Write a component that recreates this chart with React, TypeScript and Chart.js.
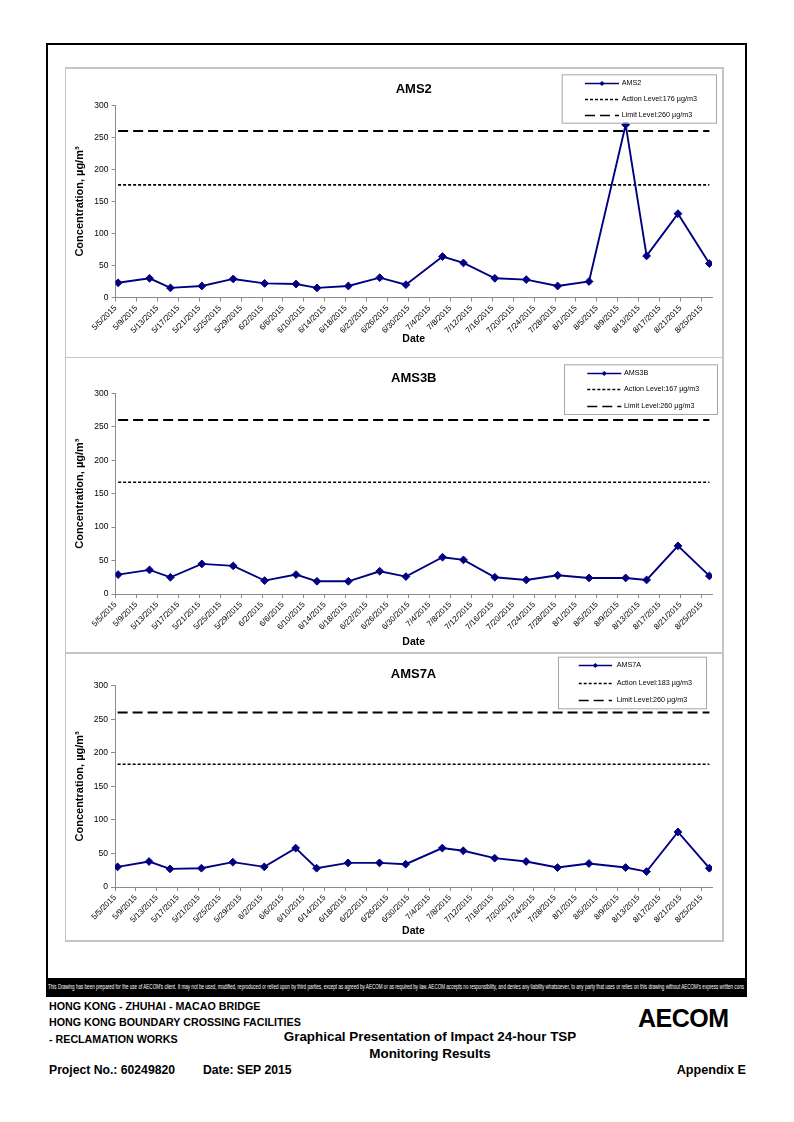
import React, { useEffect, useLayoutEffect, useRef } from 'react';
import { Chart, registerables } from 'chart.js';

Chart.register(...registerables);

// ---------------- DATA ----------------
const sampleDates = [
  '5/5/2015', '5/11/2015', '5/15/2015', '5/21/2015', '5/27/2015', '6/2/2015', '6/8/2015',
  '6/12/2015', '6/18/2015', '6/24/2015', '6/29/2015', '7/6/2015', '7/10/2015', '7/16/2015',
  '7/22/2015', '7/28/2015', '8/3/2015', '8/10/2015', '8/14/2015', '8/20/2015', '8/26/2015',
];

const tickLabels = [
  '5/5/2015', '5/9/2015', '5/13/2015', '5/17/2015', '5/21/2015', '5/25/2015', '5/29/2015',
  '6/2/2015', '6/6/2015', '6/10/2015', '6/14/2015', '6/18/2015', '6/22/2015', '6/26/2015',
  '6/30/2015', '7/4/2015', '7/8/2015', '7/12/2015', '7/16/2015', '7/20/2015', '7/24/2015',
  '7/28/2015', '8/1/2015', '8/5/2015', '8/9/2015', '8/13/2015', '8/17/2015', '8/21/2015',
  '8/25/2015',
];
const axisStartDate = '5/5/2015';
const axisEndDate = '8/27/2015';

const ams2Values = [23, 30, 15, 18, 29, 22, 21, 15, 18, 31, 20, 64, 54, 30, 28, 18, 25, 270, 65, 131, 53];
const ams3bValues = [29, 36, 25, 45, 42, 20, 29, 19, 19, 34, 26, 55, 51, 25, 21, 28, 24, 24, 21, 72, 27];
const ams7aValues = [30, 38, 27, 28, 37, 30, 58, 28, 36, 36, 34, 58, 54, 43, 38, 29, 35, 29, 23, 82, 28];

const stationNames = ['AMS2', 'AMS3B', 'AMS7A'];
const actionLevels = [176, 167, 183];
const limitLevel = 260;
const yMin = 0;
const yMax = 300;
const yStep = 50;

// ---------------- HELPERS ----------------
const FONT = "'Liberation Sans', Arial, Helvetica, sans-serif";

function dayOf(label: string): number {
  const [m, d, y] = label.split('/').map(Number);
  const [m0, d0, y0] = axisStartDate.split('/').map(Number);
  return Math.round((Date.UTC(y, m - 1, d) - Date.UTC(y0, m0 - 1, d0)) / 86400000);
}

type LegendLayout = {
  left: number; top: number; width: number; height: number;
  firstRow: number; rowGap: number; lineX0: number; lineX1: number; textX: number;
};

type ChartLayout = {
  top: number; height: number;
  yAxisWidth: number; padRight: number;
  titlePadTop: number; titlePadBottom: number;
  xAxisHeight: number; datePad: number; yTitlePad: number;
  legend: LegendLayout;
};

const boxLegend = {
  id: 'boxLegend',
  afterDraw(chart: any, _args: any, opts: any) {
    const ctx = chart.ctx as CanvasRenderingContext2D;
    const { left, top, width, height, firstRow, rowGap, lineX0, lineX1, textX } = opts;
    if (width === undefined) return;
    ctx.save();
    ctx.fillStyle = '#ffffff';
    ctx.fillRect(left, top, width, height);
    ctx.strokeStyle = '#a6a6a6';
    ctx.lineWidth = 1;
    ctx.strokeRect(left + 0.5, top + 0.5, width, height);
    chart.data.datasets.forEach((ds: any, i: number) => {
      const y = Math.round(top + firstRow + i * rowGap) + 0.5;
      ctx.setLineDash(ds.borderDash || []);
      ctx.strokeStyle = ds.borderColor;
      ctx.lineWidth = Math.min(ds.borderWidth, 1.6);
      ctx.beginPath();
      ctx.moveTo(left + lineX0, y);
      ctx.lineTo(left + lineX1, y);
      ctx.stroke();
      ctx.setLineDash([]);
      if (ds.pointRadius > 0) {
        const cx = left + (lineX0 + lineX1) / 2;
        const r = 2.6;
        ctx.fillStyle = ds.pointBackgroundColor;
        ctx.beginPath();
        ctx.moveTo(cx, y - r);
        ctx.lineTo(cx + r, y);
        ctx.lineTo(cx, y + r);
        ctx.lineTo(cx - r, y);
        ctx.closePath();
        ctx.fill();
      }
      ctx.fillStyle = '#000000';
      ctx.font = `7.2px ${FONT}`;
      ctx.textBaseline = 'middle';
      ctx.textAlign = 'left';
      ctx.fillText(ds.label, left + textX, y);
    });
    ctx.restore();
  },
};

const layouts: ChartLayout[] = [
  {
    top: 68, height: 289, yAxisWidth: 50.5, padRight: 11,
    titlePadTop: 13.5, titlePadBottom: 8.4, xAxisHeight: 59.5, datePad: 11.4, yTitlePad: 8.4,
    legend: { left: 496.7, top: 6.3, width: 154.3, height: 48.4, firstRow: 8.4, rowGap: 16.2, lineX0: 23.3, lineX1: 57.3, textX: 60 },
  },
  {
    top: 358, height: 295, yAxisWidth: 50.5, padRight: 11,
    titlePadTop: 12.5, titlePadBottom: 7.2, xAxisHeight: 59, datePad: 5, yTitlePad: 8.4,
    legend: { left: 499, top: 6.3, width: 153, height: 49.7, firstRow: 8.4, rowGap: 16.5, lineX0: 23.3, lineX1: 57.3, textX: 60 },
  },
  {
    top: 653, height: 288, yAxisWidth: 50, padRight: 11,
    titlePadTop: 13.5, titlePadBottom: 3.6, xAxisHeight: 54, datePad: 3.7, yTitlePad: 8.4,
    legend: { left: 493, top: 3.7, width: 148, height: 51.6, firstRow: 8.3, rowGap: 17.7, lineX0: 20.7, lineX1: 54, textX: 58.7 },
  },
];

function StationChart({ name, values, action, layout }: { name: string; values: number[]; action: number; layout: ChartLayout }) {
  const ref = useRef<HTMLCanvasElement>(null);
  useEffect(() => {
    const xs = sampleDates.map((d) => dayOf(d) + 0.5);
    const first = xs[0];
    const last = xs[xs.length - 1];
    const chart = new Chart(ref.current as HTMLCanvasElement, {
      type: 'line',
      data: {
        datasets: [
          {
            label: name,
            data: xs.map((x, i) => ({ x, y: values[i] })),
            borderColor: '#000080',
            backgroundColor: '#000080',
            borderWidth: 1.9,
            pointStyle: 'rectRot',
            pointRadius: 3.9,
            pointBackgroundColor: '#000080',
            pointBorderColor: '#000080',
            pointBorderWidth: 1,
            tension: 0,
          },
          {
            label: `Action Level:${action} µg/m3`,
            data: [{ x: first, y: action }, { x: last, y: action }],
            borderColor: '#000000',
            borderWidth: 1.6,
            borderDash: [3, 2],
            pointRadius: 0,
          },
          {
            label: `Limit Level:${limitLevel} µg/m3`,
            data: [{ x: first, y: limitLevel }, { x: last, y: limitLevel }],
            borderColor: '#000000',
            borderWidth: 2,
            borderDash: [10, 5],
            pointRadius: 0,
          },
        ] as any,
      },
      options: {
        animation: false,
        responsive: false,
        events: [],
        layout: { padding: { left: 0, right: layout.padRight, top: 0, bottom: 0 } },
        plugins: {
          legend: { display: false },
          tooltip: { enabled: false },
          title: {
            display: true,
            text: name,
            fullSize: false,
            color: '#000000',
            font: { family: FONT, size: 13, weight: 'bold' },
            padding: { top: layout.titlePadTop, bottom: layout.titlePadBottom },
          },
          boxLegend: layout.legend,
        } as any,
        scales: {
          x: {
            type: 'linear',
            min: dayOf(axisStartDate),
            max: dayOf(axisEndDate),
            afterBuildTicks: (axis: any) => {
              axis.ticks = tickLabels.map((l) => ({ value: dayOf(l) }));
            },
            afterFit: (axis: any) => {
              axis.height = layout.xAxisHeight;
            },
            ticks: {
              autoSkip: false,
              minRotation: 45,
              maxRotation: 45,
              padding: 2,
              color: '#000000',
              font: { family: FONT, size: 8 },
              callback: (_v: any, i: number) => tickLabels[i],
            },
            grid: { drawOnChartArea: false, drawTicks: true, tickLength: 4, color: '#8c8c8c' },
            border: { display: true, color: '#8c8c8c', width: 1 },
            title: {
              display: true,
              text: 'Date',
              color: '#000000',
              font: { family: FONT, size: 10.5, weight: 'bold' },
              padding: { top: 0, bottom: layout.datePad },
            },
          } as any,
          y: {
            min: yMin,
            max: yMax,
            afterFit: (axis: any) => {
              axis.width = layout.yAxisWidth;
            },
            ticks: {
              stepSize: yStep,
              padding: 3,
              color: '#000000',
              font: { family: FONT, size: 8.5 },
            },
            grid: { drawOnChartArea: false, drawTicks: true, tickLength: 4, color: '#8c8c8c' },
            border: { display: true, color: '#8c8c8c', width: 1 },
            title: {
              display: true,
              text: 'Concentration, µg/m³',
              color: '#000000',
              font: { family: FONT, size: 11, weight: 'bold' },
              padding: { top: layout.yTitlePad, bottom: 0 },
            },
          } as any,
        },
      },
      plugins: [boxLegend as any],
    });
    return () => chart.destroy();
  }, [name, values, action, layout]);
  return (
    <canvas
      ref={ref}
      width={658}
      height={layout.height}
      style={{ position: 'absolute', left: 65, top: layout.top, width: 658, height: layout.height }}
    />
  );
}

const disclaimer =
  "This Drawing has been prepared for the use of AECOM's client. It may not be used, modified, reproduced or relied upon by third parties, except as agreed by AECOM or as required by law. AECOM accepts no responsibility, and denies any liability whatsoever, to any party that uses or relies on this drawing without AECOM's express written cons";

function Disclaimer() {
  const ref = useRef<HTMLSpanElement>(null);
  useLayoutEffect(() => {
    const el = ref.current;
    if (!el) return;
    const w = el.getBoundingClientRect().width;
    const target = 696;
    if (w > 0) el.style.transform = `scaleX(${target / w})`;
  }, []);
  return (
    <div style={{ position: 'absolute', left: 46, top: 978, width: 701, height: 19, background: '#000', overflow: 'hidden' }}>
      <span
        ref={ref}
        style={{
          position: 'absolute', left: 2, top: 5, whiteSpace: 'nowrap', color: '#fff',
          fontFamily: FONT, fontSize: 7.5, lineHeight: '8px', transformOrigin: 'left top', display: 'inline-block',
        }}
      >
        {disclaimer}
      </span>
    </div>
  );
}

const txt = (s: React.CSSProperties): React.CSSProperties => ({
  position: 'absolute', fontFamily: FONT, fontWeight: 'bold', whiteSpace: 'nowrap', color: '#000', lineHeight: 1, ...s,
});

const line = (s: React.CSSProperties): React.CSSProperties => ({ position: 'absolute', ...s });

export default function App() {
  const seriesValues = [ams2Values, ams3bValues, ams7aValues];
  return (
    <div style={{ position: 'absolute', left: 0, top: 0, width: 794, height: 1122, background: '#fff', overflow: 'hidden' }}>
      {/* outer frame */}
      <div style={line({ left: 46, top: 42.5, width: 701, height: 2, background: '#000' })} />
      <div style={line({ left: 46, top: 42.5, width: 2, height: 937, background: '#000' })} />
      <div style={line({ left: 745, top: 42.5, width: 2, height: 937, background: '#000' })} />
      {/* grey chart box */}
      <div style={line({ left: 64.5, top: 67, width: 1.5, height: 874, background: '#c4c4c4' })} />
      <div style={line({ left: 722, top: 67, width: 1.5, height: 874, background: '#c4c4c4' })} />
      <div style={line({ left: 64.5, top: 67, width: 659, height: 1.5, background: '#c4c4c4' })} />
      <div style={line({ left: 64.5, top: 356.5, width: 659, height: 1.5, background: '#c4c4c4' })} />
      <div style={line({ left: 64.5, top: 652, width: 659, height: 1.5, background: '#c4c4c4' })} />
      <div style={line({ left: 64.5, top: 940, width: 659, height: 1.5, background: '#c4c4c4' })} />
      {stationNames.map((n, i) => (
        <StationChart key={n} name={n} values={seriesValues[i]} action={actionLevels[i]} layout={layouts[i]} />
      ))}
      <Disclaimer />
      {/* footer */}
      <div style={txt({ left: 49, top: 1000.5, fontSize: 10.7 })}>HONG KONG - ZHUHAI - MACAO BRIDGE</div>
      <div style={txt({ left: 49, top: 1017.2, fontSize: 10.7 })}>HONG KONG BOUNDARY CROSSING FACILITIES</div>
      <div style={txt({ left: 49, top: 1033.5, fontSize: 10.7 })}>- RECLAMATION WORKS</div>
      <div style={txt({ left: 230, width: 400, textAlign: 'center', top: 1030, fontSize: 13.4 })}>
        Graphical Presentation of Impact 24-hour TSP
      </div>
      <div style={txt({ left: 230, width: 400, textAlign: 'center', top: 1047, fontSize: 13.4 })}>Monitoring Results</div>
      <div style={txt({ left: 49, top: 1063.5, fontSize: 12.2 })}>Project No.: 60249820</div>
      <div style={txt({ left: 203, top: 1063.5, fontSize: 12.2 })}>Date: SEP 2015</div>
      <div style={txt({ right: 794 - 746, top: 1063.5, fontSize: 12.6 })}>Appendix E</div>
      <div style={txt({ left: 638, top: 1006, fontSize: 25, fontWeight: 900, letterSpacing: -0.5 })}>AECOM</div>
    </div>
  );
}
